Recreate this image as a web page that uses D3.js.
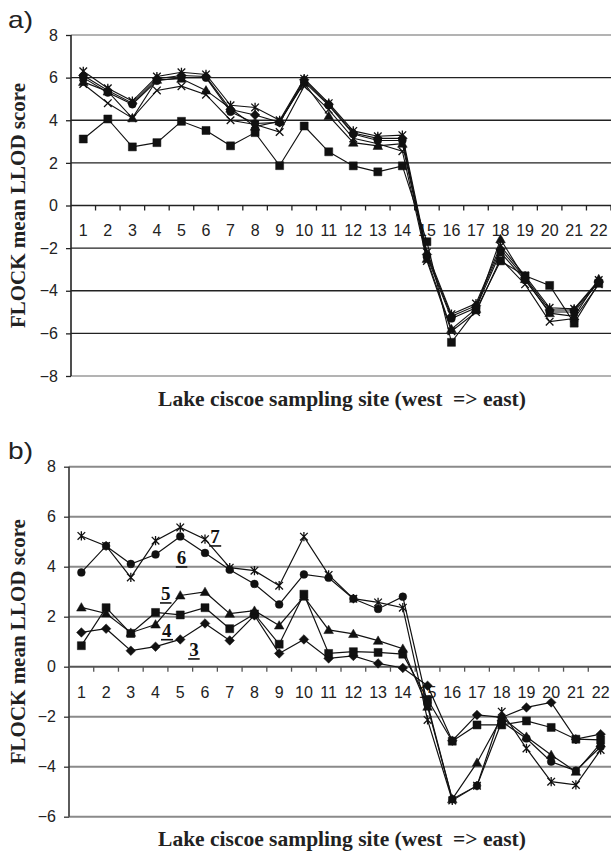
<!DOCTYPE html>
<html><head><meta charset="utf-8">
<script src="https://cdn.jsdelivr.net/npm/d3@7"></script>
<style>body{margin:0;background:#fff} svg{display:block}</style>
</head><body>
<svg id="c" width="611" height="853"></svg>
<script>
// ---------- DATA ----------
const sites = ["1","2","3","4","5","6","7","8","9","10","11","12","13","14","15","16","17","18","19","20","21","22"];
const yTicksA = [8,6,4,2,0,-2,-4,-6,-8];
const yTicksB = [8,6,4,2,0,-2,-4,-6];

// Panel a)
const aStar     = [6.3, 5.5, 4.9, 6.05, 6.25, 6.15, 4.7, 4.6, 4.0, 5.95, 4.8, 3.5, 3.25, 3.3, -2.2, -5.1, -4.6, -1.9, -3.3, -4.8, -4.85, -3.5];
const aDiamond  = [6.1, 5.4, 4.8, 5.95, 6.1, 6.05, 4.5, 4.25, 3.9, 5.9, 4.75, 3.4, 3.15, 3.15, -2.3, -5.2, -4.7, -2.05, -3.4, -4.9, -4.9, -3.55];
const aCircle   = [6.0, 5.3, 4.75, 5.85, 6.0, 6.0, 4.4, 3.85, 3.9, 5.8, 4.7, 3.35, 3.05, 3.05, -2.4, -5.3, -4.8, -2.2, -3.5, -5.0, -5.0, -3.6];
const aTriangle = [5.8, 5.35, 4.1, 5.9, 5.95, 5.4, 4.55, 3.7, 3.95, 5.75, 4.2, 2.95, 2.8, 2.9, -2.5, -5.8, -4.85, -1.58, -3.45, -5.05, -5.2, -3.45];
const aCross    = [5.7, 4.8, 4.1, 5.4, 5.6, 5.2, 4.0, 3.8, 3.45, 5.6, 4.5, 3.15, 2.9, 2.55, -2.6, -5.9, -5.0, -2.5, -3.7, -5.45, -5.3, -3.7];
const aSquare   = [3.12, 4.06, 2.75, 2.95, 3.95, 3.52, 2.8, 3.42, 1.87, 3.73, 2.52, 1.86, 1.58, 1.86, -1.7, -6.42, -4.9, -2.6, -3.3, -3.75, -5.52, -3.65];

// Panel b)
const b3Diamond  = [1.37, 1.52, 0.64, 0.8, 1.09, 1.73, 1.05, 2.05, 0.53, 1.09, 0.33, 0.43, 0.13, -0.05, -0.76, -2.96, -1.93, -2.03, -1.63, -1.43, -2.9, -2.7];
const b4Square   = [0.84, 2.36, 1.33, 2.17, 2.07, 2.36, 1.52, 2.11, 0.9, 2.9, 0.53, 0.6, 0.57, 0.5, -1.31, -2.98, -2.33, -2.33, -2.17, -2.43, -2.9, -2.93];
const b5Triangle = [2.37, 2.13, 1.36, 1.69, 2.85, 2.99, 2.12, 2.24, 1.65, 2.8, 1.47, 1.31, 1.04, 0.72, -1.6, -5.3, -3.84, -2.03, -2.8, -3.53, -4.2, -3.07];
const b6Circle   = [3.77, 4.83, 4.11, 4.49, 5.21, 4.55, 3.88, 3.31, 2.49, 3.69, 3.56, 2.72, 2.31, 2.8, -1.5, -5.3, -4.76, -2.2, -2.87, -3.8, -4.16, -3.2];
const b7Star     = [5.23, 4.83, 3.57, 5.04, 5.57, 5.1, 3.96, 3.84, 3.24, 5.2, 3.67, 2.72, 2.57, 2.36, -2.13, -5.35, -4.76, -1.8, -3.27, -4.6, -4.73, -3.33];

// labels in panel b (site position, value)
const bLabelText = ["7","6","5","4","3"];
const bLabelSite = [6.21, 4.86, 4.22, 4.26, 5.36];
const bLabelVal  = [4.95, 4.11, 2.67, 1.2, 0.43];

const yTitle = "FLOCK mean LLOD score";
const xTitle = "Lake ciscoe sampling site (west  => east)";

// ---------- DRAW ----------
const svg = d3.select("#c");
const SANS = "'Liberation Sans', Arial, Helvetica, sans-serif";
const SERIF = "'Liberation Serif', 'Times New Roman', Times, serif";

function markerPath(type, cx, cy) {
  const p = d3.path();
  if (type === "square") { const s = 4; p.rect(cx - s, cy - s, 2*s, 2*s); }
  else if (type === "diamond") { const s = 4.8; p.moveTo(cx, cy - s); p.lineTo(cx + s, cy); p.lineTo(cx, cy + s); p.lineTo(cx - s, cy); p.closePath(); }
  else if (type === "triangle") { const s = 4.8; p.moveTo(cx, cy - s); p.lineTo(cx + s, cy + s*0.75); p.lineTo(cx - s, cy + s*0.75); p.closePath(); }
  else if (type === "circle") { p.moveTo(cx + 3.9, cy); p.arc(cx, cy, 3.9, 0, 2*Math.PI); }
  else if (type === "cross") { const s = 3.8; p.moveTo(cx - s, cy - s); p.lineTo(cx + s, cy + s); p.moveTo(cx + s, cy - s); p.lineTo(cx - s, cy + s); }
  else if (type === "star") { const s = 3.8; p.moveTo(cx - s, cy - s); p.lineTo(cx + s, cy + s); p.moveTo(cx + s, cy - s); p.lineTo(cx - s, cy + s); p.moveTo(cx, cy - 4.6); p.lineTo(cx, cy + 4.6); }
  return p.toString();
}

function fmt(d) { return d < 0 ? "\u2212" + Math.abs(d) : String(d); }

function drawPanel(cfg) {
  const g = svg.append("g");
  const x = d3.scaleBand().domain(sites).range([cfg.x0, cfg.x1]);
  const y = d3.scaleLinear().domain([cfg.ymin, cfg.ymax]).range([cfg.yb, cfg.yt]);
  const bw = x.bandwidth();
  const cxOf = (i) => x(sites[i]) + bw / 2;
  const siteLin = d3.scaleLinear().domain([0.5, sites.length + 0.5]).range([cfg.x0, cfg.x1]);

  // gridlines
  g.selectAll("line.grid").data(cfg.ticks.filter(t => t !== 0)).join("line")
    .attr("x1", cfg.x0).attr("x2", cfg.x1 + 2)
    .attr("y1", d => y(d)).attr("y2", d => y(d))
    .attr("stroke", d => (d === cfg.ymax || d === cfg.ymin) ? cfg.edgeGrid : cfg.innerGrid)
    .attr("stroke-width", cfg.gridW);

  // y axis
  const ya = d3.axisLeft(y).tickValues(cfg.ticks).tickSize(5).tickPadding(8).tickFormat(fmt);
  const yg = g.append("g").attr("transform", `translate(${cfg.x0},0)`).call(ya);
  yg.select(".domain").remove();
  yg.selectAll(".tick line").attr("stroke", cfg.axisCol).attr("stroke-width", 1.3);
  yg.selectAll(".tick text").attr("font-family", SANS).attr("font-size", 16).attr("fill", "#222");
  g.append("line").attr("x1", cfg.x0).attr("x2", cfg.x0).attr("y1", y(cfg.ymax)).attr("y2", y(cfg.ymin))
    .attr("stroke", cfg.axisCol).attr("stroke-width", 1.6);

  // x axis line at zero
  g.append("line").attr("x1", cfg.x0).attr("x2", cfg.x1 + 2).attr("y1", y(0)).attr("y2", y(0))
    .attr("stroke", cfg.zeroCol).attr("stroke-width", cfg.gridW);
  g.selectAll("line.xt").data(sites).join("line")
    .attr("x1", d => x(d) + bw).attr("x2", d => x(d) + bw)
    .attr("y1", y(0)).attr("y2", y(0) + 5)
    .attr("stroke", cfg.zeroCol).attr("stroke-width", 1.3);
  g.selectAll("text.xl").data(sites).join("text")
    .attr("x", d => x(d) + bw / 2).attr("y", y(0) + cfg.labelDy)
    .attr("text-anchor", "middle").attr("font-family", SANS).attr("font-size", 16).attr("fill", "#222")
    .text(d => d);

  // series
  const line = d3.line().x((d, i) => cxOf(i)).y(d => y(d));
  cfg.series.forEach(s => {
    g.append("path").attr("d", line(s.values)).attr("fill", "none")
      .attr("stroke", "#111").attr("stroke-width", cfg.lineW);
  });
  cfg.series.forEach(s => {
    const stroked = (s.type === "cross" || s.type === "star");
    g.selectAll(null).data(s.values).join("path")
      .attr("d", (d, i) => markerPath(s.type, cxOf(i), y(d)))
      .attr("fill", stroked ? "none" : "#111")
      .attr("stroke", "#111").attr("stroke-width", stroked ? 1.3 : 0.5);
  });

  // panel letter
  g.append("text").attr("x", 8).attr("y", cfg.letterY).attr("font-family", SANS).attr("font-size", 24)
    .attr("textLength", 25).attr("lengthAdjust", "spacingAndGlyphs")
    .attr("fill", "#222").text(cfg.letter);

  // titles
  g.append("text").attr("transform", `translate(25,${(cfg.yt + cfg.yb) / 2}) rotate(-90)`)
    .attr("text-anchor", "middle").attr("font-family", SERIF).attr("font-weight", "bold")
    .attr("font-size", 21).attr("fill", "#222").text(yTitle);
  g.append("text").attr("x", (cfg.x0 + cfg.x1) / 2 + 1).attr("y", cfg.xTitleY)
    .attr("text-anchor", "middle").attr("font-family", SERIF).attr("font-weight", "bold")
    .attr("font-size", 21.5).attr("fill", "#222").attr("xml:space", "preserve").style("white-space", "pre").text(xTitle);

  // annotations
  if (cfg.labels) {
    cfg.labels.forEach(l => {
      const t = g.append("text").attr("x", siteLin(l.s)).attr("y", y(l.v))
        .attr("font-family", SERIF).attr("font-weight", "bold").attr("font-size", 19).attr("fill", "#111").text(l.t);
      const bb = t.node().getBBox();
      g.append("line").attr("x1", bb.x - 1).attr("x2", bb.x + bb.width + 1)
        .attr("y1", y(l.v) + 3).attr("y2", y(l.v) + 3).attr("stroke", "#111").attr("stroke-width", 1.6);
    });
  }
}

drawPanel({
  x0: 71, x1: 611, yt: 35, yb: 376, ymin: -8, ymax: 8, ticks: yTicksA,
  innerGrid: "#222", edgeGrid: "#9a9a9a", zeroCol: "#222", axisCol: "#222", gridW: 1.4, lineW: 1.1,
  labelDy: 30.5, letter: "a)", letterY: 28, xTitleY: 406,
  series: [
    {type: "square", values: aSquare},
    {type: "cross", values: aCross},
    {type: "triangle", values: aTriangle},
    {type: "circle", values: aCircle},
    {type: "diamond", values: aDiamond},
    {type: "star", values: aStar}
  ]
});

drawPanel({
  x0: 69, x1: 613, yt: 466.7, yb: 816.7, ymin: -6, ymax: 8, ticks: yTicksB,
  innerGrid: "#8a8a8a", edgeGrid: "#8a8a8a", zeroCol: "#555", axisCol: "#333", gridW: 2, lineW: 1.2,
  labelDy: 31, letter: "b)", letterY: 459, xTitleY: 846,
  series: [
    {type: "diamond", values: b3Diamond},
    {type: "square", values: b4Square},
    {type: "triangle", values: b5Triangle},
    {type: "circle", values: b6Circle},
    {type: "star", values: b7Star}
  ],
  labels: bLabelText.map((t, i) => ({t: t, s: bLabelSite[i], v: bLabelVal[i]}))
});
</script>
</body></html>
